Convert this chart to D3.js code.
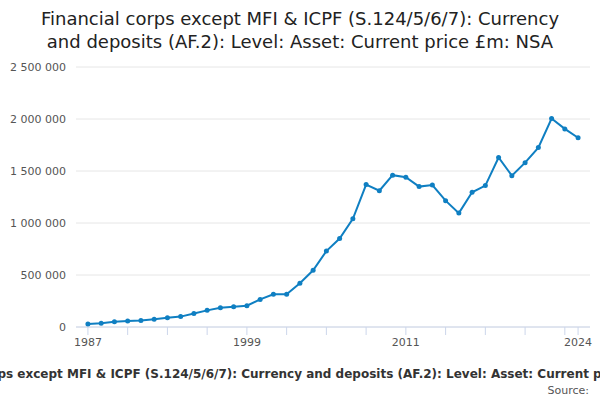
<!DOCTYPE html>
<html><head><meta charset="utf-8">
<script src="https://cdn.jsdelivr.net/npm/d3@7"></script>
<style>body{margin:0;background:#fff;font-family:"DejaVu Sans",sans-serif;}</style>
</head><body><div class="chart"></div>
<script>
// years and values (£m)
var years = d3.range(1987, 2025);
var values = [30000, 35000, 50000, 58000, 62000, 75000, 88000, 100000, 130000, 160000,
  185000, 195000, 205000, 265000, 315000, 315000, 420000, 545000, 730000, 850000,
  1040000, 1370000, 1310000, 1460000, 1440000, 1350000, 1365000, 1215000, 1095000, 1295000,
  1360000, 1630000, 1455000, 1580000, 1725000, 2005000, 1905000, 1820000];
var yTicks = [0, 500000, 1000000, 1500000, 2000000, 2500000];
var xLabels = [1987, 1999, 2011, 2024];

var svgWidth = 600, svgHeight = 400;
var margin = {top: 67, left: 76, right: 10, bottom: 73};
var width = svgWidth - margin.left - margin.right;
var height = svgHeight - margin.top - margin.bottom;

var svg = d3.select(".chart").append("svg").attr("width", svgWidth).attr("height", svgHeight);

//title
var title = svg.append("text").attr("text-anchor", "middle").attr("font-size", 18).attr("fill", "#222");
title.append("tspan").attr("x", 300).attr("y", 25).text("Financial corps except MFI & ICPF (S.124/5/6/7): Currency");
title.append("tspan").attr("x", 300).attr("y", 48).text("and deposits (AF.2): Level: Asset: Current price £m: NSA");

var chartGroup = svg.append("g").attr("transform", `translate(${margin.left}, ${margin.top})`);

var x = d3.scaleLinear().domain([1986.1, 2024.9]).range([0, width]);
var y = d3.scaleLinear().domain([0, 2500000]).range([height, 0]);
var fmt = d => d3.format(",")(d).replace(/,/g, " ");

//gridlines and labels
chartGroup.selectAll(".grid").data(yTicks).enter().append("line")
  .attr("x1", 0).attr("x2", width).attr("y1", d => y(d)).attr("y2", d => y(d))
  .attr("stroke", "#e6e6e6");
chartGroup.selectAll(".yl").data(yTicks).enter().append("text")
  .attr("x", -10).attr("y", d => y(d) + 4).attr("text-anchor", "end")
  .attr("font-size", 11).attr("fill", "#555").text(fmt);

//x axis
chartGroup.append("line").attr("x1", 0).attr("x2", width).attr("y1", height).attr("y2", height).attr("stroke", "#ccd6eb");
chartGroup.selectAll(".xt").data(d3.range(1987, 2025, 3).concat([2024])).enter().append("line")
  .attr("x1", d => x(d)).attr("x2", d => x(d)).attr("y1", height).attr("y2", height + 8).attr("stroke", "#ccd6eb");
chartGroup.selectAll(".xl").data(xLabels).enter().append("text")
  .attr("x", d => x(d)).attr("y", height + 19).attr("text-anchor", "middle")
  .attr("font-size", 11).attr("fill", "#555").text(d => d);

//line and points
var line = d3.line().x((d, i) => x(years[i])).y(d => y(d));
chartGroup.append("path").datum(values).attr("d", line).attr("fill", "none").attr("stroke", "#0f7fc2").attr("stroke-width", 2);
chartGroup.selectAll("circle").data(values).enter().append("circle")
  .attr("cx", (d, i) => x(years[i])).attr("cy", d => y(d)).attr("r", 2.5).attr("fill", "#0f7fc2");

//legend (wider than the picture, as in the original) and source
svg.append("text").attr("x", 300).attr("y", 378).attr("text-anchor", "middle")
  .attr("font-size", 12).attr("font-weight", "bold").attr("fill", "#333")
  .text("Financial corps except MFI & ICPF (S.124/5/6/7): Currency and deposits (AF.2): Level: Asset: Current price £m: NSA");
svg.append("text").attr("x", 589).attr("y", 394).attr("text-anchor", "end")
  .attr("font-size", 11).attr("fill", "#555").text("Source:");
</script></body></html>
